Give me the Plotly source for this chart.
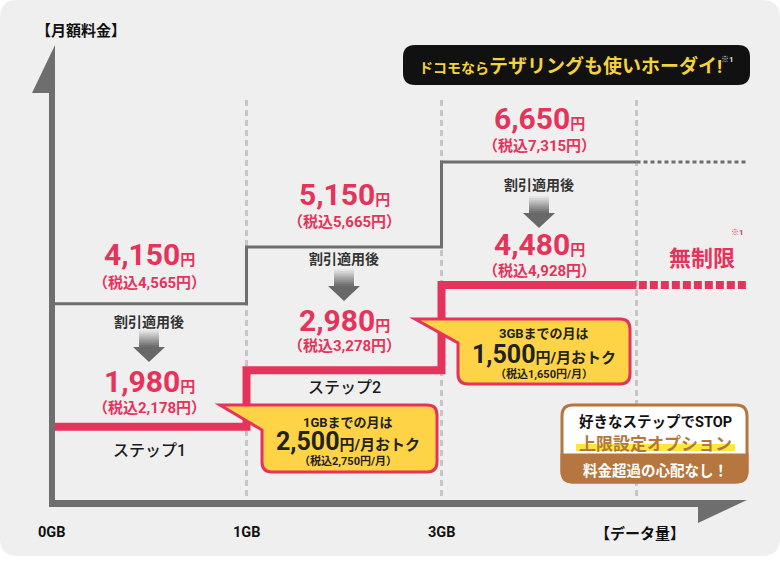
import plotly.graph_objects as go

# ---------------- data ----------------
tick_labels = ["0GB", "1GB", "3GB"]
x_title = "【データ量】"
y_title = "【月額料金】"
list_price = [4150, 5150, 6650]
list_price_tax = [4565, 5665, 7315]
disc_price = [1980, 2980, 4480]
disc_price_tax = [2178, 3278, 4928]
step_names = ["ステップ1", "ステップ2"]
save_limit = ["1GB", "3GB"]
save_amount = [2500, 1500]
save_amount_tax = [2750, 1650]
unlimited_label = "無制限"
after_discount = "割引適用後"

# ---------------- layout helpers ----------------
W, H = 780, 561
RED = "#e6335b"
GRAY = "#6e6e6e"
DARK = "#222222"
YEL = "#fed446"
BROWN = "#b5773f"
FAM = "Roboto, Noto Sans CJK JP, sans-serif"
JFAM = "Noto Sans CJK JP, sans-serif"

X0PX, STEP_PX = 51.5, 195.0          # pixel of x=0 and pixel width of one step
EXT = (748 - X0PX) / STEP_PX         # end of "unlimited" extension


def X(x):
    return x / W


def Y(y):
    return 1 - y / H


def f(a, b):
    return f"{X(a):.5f},{Y(b):.5f}"


def poly(pts):
    return "M " + " L ".join(f(a, b) for a, b in pts) + " Z"


def rrect(x0, y0, x1, y1, r):
    return (f"M {f(x0 + r, y0)} L {f(x1 - r, y0)} Q {f(x1, y0)} {f(x1, y0 + r)} "
            f"L {f(x1, y1 - r)} Q {f(x1, y1)} {f(x1 - r, y1)} L {f(x0 + r, y1)} "
            f"Q {f(x0, y1)} {f(x0, y1 - r)} L {f(x0, y0 + r)} Q {f(x0, y0)} {f(x0 + r, y0)} Z")


def callout(x0, y0, x1, y1, r, tipx, join_y):
    return (f"M {f(tipx, y0)} L {f(x1 - r, y0)} Q {f(x1, y0)} {f(x1, y0 + r)} "
            f"L {f(x1, y1 - r)} Q {f(x1, y1)} {f(x1 - r, y1)} L {f(x0 + r, y1)} "
            f"Q {f(x0, y1)} {f(x0, y1 - r)} L {f(x0, join_y)} Z")


fig = go.Figure()

xs = list(range(len(list_price) + 1))
# gray (list price) step line
fig.add_trace(go.Scatter(x=xs, y=list_price + [list_price[-1]], mode="lines",
                         line=dict(color=GRAY, width=3, shape="hv"),
                         hoverinfo="skip", showlegend=False))
fig.add_trace(go.Scatter(x=[xs[-1], EXT], y=[list_price[-1]] * 2, mode="lines",
                         line=dict(color=GRAY, width=3, dash="4px,3px"),
                         hoverinfo="skip", showlegend=False))
# red (discounted) step line
fig.add_trace(go.Scatter(x=xs, y=disc_price + [disc_price[-1]], mode="lines",
                         line=dict(color=RED, width=8, shape="hv"),
                         hoverinfo="skip", showlegend=False))
fig.add_trace(go.Scatter(x=[xs[-1] + 0.012, EXT], y=[disc_price[-1]] * 2, mode="lines",
                         line=dict(color=RED, width=8, dash="8px,3px"),
                         hoverinfo="skip", showlegend=False))

shapes = []
# background panel
shapes.append(dict(type="path", xref="paper", yref="paper", path=rrect(0, 0, 780, 556, 18),
                   fillcolor="#efefef", line=dict(width=0), layer="below"))
# dashed boundaries
for i in xs[1:]:
    shapes.append(dict(type="line", xref="x", yref="paper", x0=i, x1=i, y0=Y(100), y1=Y(500),
                       line=dict(color="#c6c6c6", width=3, dash="6px,4px"), layer="below"))
# axes with half arrow heads
shapes.append(dict(type="path", xref="paper", yref="paper",
                   path=poly([(49, 93), (32, 93), (55, 45), (55, 500), (747, 500),
                              (698, 523), (698, 507), (49, 507)]),
                   fillcolor=GRAY, line=dict(width=0), layer="above"))
# banner
shapes.append(dict(type="path", xref="paper", yref="paper", path=rrect(403, 45, 750, 85, 12),
                   fillcolor="#111111", line=dict(width=0), layer="above"))

# discount arrows
arrow_top = [330, 269, 196]
for i, top in enumerate(arrow_top):
    c = X0PX + STEP_PX * (i + 0.5)
    n = 8
    sh = 17
    for k in range(n):
        t = k / (n - 1)
        g = int(228 - t * (228 - 112))
        y0 = top + sh * k / n
        y1 = top + sh * (k + 1) / n + 0.6
        shapes.append(dict(type="path", xref="paper", yref="paper",
                           path=poly([(c - 10, y0), (c + 10, y0), (c + 10, y1), (c - 10, y1)]),
                           fillcolor=f"rgb({g},{g},{g})", line=dict(width=0), layer="above"))
    shapes.append(dict(type="path", xref="paper", yref="paper",
                       path=poly([(c - 16, top + sh), (c + 16, top + sh), (c, top + sh + 15)]),
                       fillcolor="#686868", line=dict(width=0), layer="above"))

# callouts
shapes.append(dict(type="path", xref="paper", yref="paper",
                   path=callout(262, 405, 437, 472, 10, 220, 430),
                   fillcolor=YEL, line=dict(color=RED, width=3), layer="above"))
shapes.append(dict(type="path", xref="paper", yref="paper",
                   path=callout(458, 319, 630, 384, 10, 415, 343),
                   fillcolor=YEL, line=dict(color=RED, width=3), layer="above"))

# brown option box
shapes.append(dict(type="path", xref="paper", yref="paper", path=rrect(562, 405, 747, 482, 11),
                   fillcolor="white", line=dict(color=BROWN, width=3), layer="above"))
shapes.append(dict(type="path", xref="paper", yref="paper",
                   path=(f"M {f(562, 455)} L {f(747, 455)} L {f(747, 471)} Q {f(747, 482)} {f(736, 482)} "
                         f"L {f(573, 482)} Q {f(562, 482)} {f(562, 471)} Z"),
                   fillcolor=BROWN, line=dict(color=BROWN, width=3), layer="above"))
shapes.append(dict(type="rect", xref="paper", yref="paper", x0=X(576), x1=X(735), y0=Y(451), y1=Y(444),
                   fillcolor="#fbe83a", line=dict(width=0), layer="above"))

ann = []


def A(x, y, text, size, color=DARK, xref="paper", family=FAM, weight="bold", **kw):
    d = dict(x=x, y=y, xref=xref, yref="paper", text=text, showarrow=False,
             xanchor="center", yanchor="middle", borderpad=0,
             font=dict(family=family, size=size, color=color, weight=weight))
    d.update(kw)
    ann.append(d)


def yen(v, big, small):
    return (f'<span style="font-size:{big}px">{v:,}</span>'
            f'<span style="font-size:{small}px">円</span>')


price_y = [254, 194, 118]
tax_y = [283, 222, 146]
wari_y = [321, 258, 184]
disc_y = [381, 320, 244]
disctax_y = [408, 346, 271]
name_y = [450, 387]

for i in range(len(list_price)):
    cx = i + 0.5
    A(cx, Y(price_y[i]), yen(list_price[i], 30, 15), 30, RED, xref="x")
    A(cx, Y(tax_y[i]), f"（税込{list_price_tax[i]:,}円）", 15, RED, xref="x")
    A(cx, Y(wari_y[i]), after_discount, 14, "#333333", xref="x", family=JFAM)
    A(cx, Y(disc_y[i]), yen(disc_price[i], 30, 15), 30, RED, xref="x")
    A(cx, Y(disctax_y[i]), f"（税込{disc_price_tax[i]:,}円）", 15, RED, xref="x")
for i, nm in enumerate(step_names):
    A(i + 0.5, Y(name_y[i]), nm, 16, "#1a1a1a", xref="x", weight=500)

# callout texts
co = [(348, 422, 441, 461), (544, 333, 354, 374)]
for k, (cx, y1, y2, y3) in enumerate(co):
    A(X(cx), Y(y1), f"{save_limit[k]}までの月は", 13, DARK)
    A(X(cx), Y(y2), f'<span style="font-size:25px">{save_amount[k]:,}</span>'
                    f'<span style="font-size:15px">円/月おトク</span>', 25, DARK)
    A(X(cx), Y(y3), f"（税込{save_amount_tax[k]:,}円/月）", 11, DARK)

# unlimited
A(X(702), Y(256), unlimited_label, 22, RED, family=JFAM)
A(X(737), Y(233), "※1", 8, RED)

# banner text
A(X(570), Y(66), '<span style="font-size:14px">ドコモなら</span>'
                  '<span style="font-size:19px">テザリングも使いホーダイ!</span>', 19, "#f4d23a")
A(X(727), Y(60), "※1", 8, "#dddddd")

# option box text
A(X(655), Y(422), "好きなステップでSTOP", 14.5, "#111111")
A(X(655), Y(442), "上限設定オプション", 17, BROWN, family=JFAM)
A(X(655), Y(469), "料金超過の心配なし！", 14.5, "white", family=JFAM)

# axis labels
for i, t in enumerate(tick_labels):
    A(i, Y(532), t, 14.5, "#111111", xref="x")
A(X(640), Y(532), x_title, 15, "#111111", family=JFAM)
A(X(81), Y(30), y_title, 15, "#111111", family=JFAM)

fig.update_layout(
    width=W, height=H, autosize=False,
    margin=dict(l=0, r=0, t=0, b=0, pad=0),
    paper_bgcolor="white", plot_bgcolor="rgba(0,0,0,0)",
    xaxis=dict(range=[-X0PX / STEP_PX, (W - X0PX) / STEP_PX], visible=False, fixedrange=True),
    yaxis=dict(range=[-387, 9509], visible=False, fixedrange=True),
    shapes=shapes, annotations=ann, showlegend=False,
)

fig.write_html("out.html", config={"displayModeBar": False},
               post_script="document.body.style.margin='0';document.body.style.overflow='hidden';")
